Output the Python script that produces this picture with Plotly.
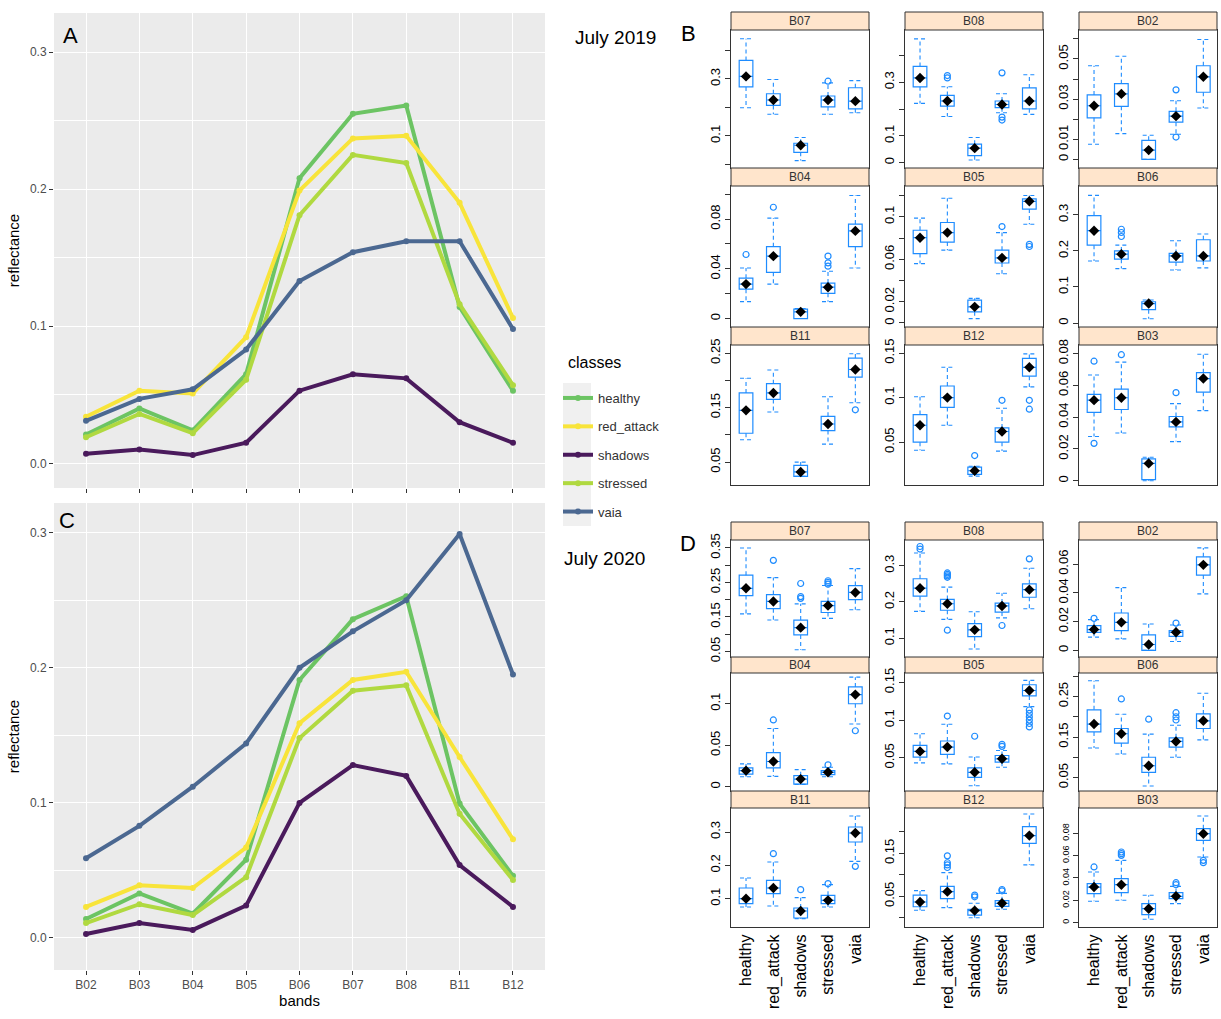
import plotly.graph_objects as go

W, H = 1221, 1019
FONT = "Liberation Sans, Arial, sans-serif"

bands = ["B02", "B03", "B04", "B05", "B06", "B07", "B08", "B11", "B12"]
classes = ["healthy", "red_attack", "shadows", "stressed", "vaia"]

# ---- mean spectral profiles (panel A: July 2019, panel C: July 2020)
y2019_healthy = [0.021, 0.040, 0.024, 0.065, 0.208, 0.255, 0.261, 0.114, 0.053]
y2019_red_attack = [0.034, 0.053, 0.051, 0.092, 0.199, 0.237, 0.239, 0.190, 0.106]
y2019_shadows = [0.007, 0.010, 0.006, 0.015, 0.053, 0.065, 0.062, 0.030, 0.015]
y2019_stressed = [0.019, 0.036, 0.022, 0.061, 0.181, 0.225, 0.219, 0.116, 0.057]
y2019_vaia = [0.031, 0.047, 0.054, 0.083, 0.133, 0.154, 0.162, 0.162, 0.098]

y2020_healthy = [0.014, 0.033, 0.018, 0.058, 0.191, 0.236, 0.253, 0.0995, 0.046]
y2020_red_attack = [0.023, 0.039, 0.037, 0.067, 0.159, 0.191, 0.197, 0.134, 0.073]
y2020_shadows = [0.003, 0.011, 0.006, 0.024, 0.100, 0.128, 0.120, 0.054, 0.023]
y2020_stressed = [0.011, 0.025, 0.017, 0.045, 0.148, 0.183, 0.187, 0.092, 0.043]
y2020_vaia = [0.059, 0.083, 0.112, 0.144, 0.200, 0.227, 0.250, 0.299, 0.195]

# ---- box-plot statistics per band (order of classes), panel B: 2019
b19_B07 = dict(lo=[0.199, 0.176, 0.013, 0.176, 0.181], q1=[0.272, 0.207, 0.042, 0.202, 0.195],
               med=[0.309, 0.226, 0.067, 0.226, 0.222], q3=[0.365, 0.248, 0.074, 0.240, 0.269],
               hi=[0.441, 0.298, 0.094, 0.286, 0.294], out=[[], [], [], [0.292], []])
b19_B08 = dict(lo=[0.221, 0.172, 0.010, 0.186, 0.180], q1=[0.283, 0.211, 0.026, 0.205, 0.201],
               med=[0.316, 0.230, 0.054, 0.217, 0.230], q3=[0.359, 0.251, 0.069, 0.230, 0.279],
               hi=[0.462, 0.283, 0.094, 0.257, 0.328], out=[[], [0.316, 0.325], [], [0.335, 0.170, 0.159], []])
b19_B02 = dict(lo=[0.0075, 0.0128, 0.0, 0.0125, 0.0256], q1=[0.0207, 0.0264, 0.0, 0.0185, 0.0334],
               med=[0.0267, 0.0326, 0.0046, 0.0215, 0.0411], q3=[0.0321, 0.0377, 0.0095, 0.0239, 0.0466],
               hi=[0.0466, 0.0513, 0.012, 0.0292, 0.0597], out=[[], [], [], [0.0346, 0.0111], []])
b19_B04 = dict(lo=[0.0136, 0.0277, 0.0, 0.0136, 0.0407], q1=[0.0236, 0.0372, 0.0, 0.0203, 0.0578],
               med=[0.0277, 0.0502, 0.0054, 0.0252, 0.0705], q3=[0.0325, 0.0578, 0.0076, 0.0285, 0.076],
               hi=[0.0407, 0.0808, 0.0081, 0.038, 0.099], out=[[0.0515], [0.0895], [], [0.0502, 0.0448, 0.0421], []])
b19_B05 = dict(lo=[0.0559, 0.0686, 0.0041, 0.0463, 0.093], q1=[0.0654, 0.0762, 0.0105, 0.0565, 0.1073],
               med=[0.0803, 0.0851, 0.0152, 0.0613, 0.1146], q3=[0.0873, 0.0946, 0.0216, 0.0686, 0.1168],
               hi=[0.0987, 0.1175, 0.0232, 0.0851, 0.12], out=[[], [], [], [0.0908], [0.074, 0.072]])
b19_B06 = dict(lo=[0.172, 0.151, 0.012, 0.147, 0.153], q1=[0.216, 0.177, 0.037, 0.169, 0.172],
               med=[0.256, 0.191, 0.054, 0.186, 0.186], q3=[0.298, 0.200, 0.059, 0.193, 0.231],
               hi=[0.354, 0.216, 0.064, 0.228, 0.247], out=[[], [0.260, 0.251, 0.240], [], [], []])
b19_B11 = dict(lo=[0.091, 0.142, 0.024, 0.083, 0.159], q1=[0.103, 0.165, 0.024, 0.108, 0.206],
               med=[0.145, 0.177, 0.032, 0.120, 0.220], q3=[0.177, 0.194, 0.044, 0.134, 0.241],
               hi=[0.204, 0.219, 0.050, 0.170, 0.249], out=[[], [], [], [], [0.146]])
b19_B12 = dict(lo=[0.041, 0.069, 0.012, 0.040, 0.112], q1=[0.050, 0.089, 0.014, 0.050, 0.124],
               med=[0.069, 0.100, 0.018, 0.062, 0.134], q3=[0.081, 0.113, 0.022, 0.066, 0.144],
               hi=[0.101, 0.134, 0.023, 0.088, 0.149], out=[[], [], [0.035], [0.097], [0.097, 0.087]])
b19_B03 = dict(lo=[0.0278, 0.030, 0.0, 0.0246, 0.0441], q1=[0.043, 0.0448, 0.0007, 0.0339, 0.0557],
               med=[0.0507, 0.0522, 0.0109, 0.037, 0.0643], q3=[0.0543, 0.0576, 0.0137, 0.0404, 0.068],
               hi=[0.0665, 0.0746, 0.0148, 0.0485, 0.0796], out=[[0.0752, 0.0235], [0.0793], [], [0.0554], []])

# ---- box-plot statistics per band, panel D: 2020
b20_B07 = dict(lo=[0.159, 0.141, 0.055, 0.146, 0.171], q1=[0.212, 0.174, 0.098, 0.163, 0.200],
               med=[0.233, 0.195, 0.119, 0.183, 0.221], q3=[0.271, 0.215, 0.141, 0.195, 0.241],
               hi=[0.350, 0.264, 0.188, 0.241, 0.290], out=[[], [0.314], [0.247, 0.209, 0.204], [0.255, 0.250, 0.245], []])
b20_B08 = dict(lo=[0.174, 0.152, 0.070, 0.156, 0.181], q1=[0.216, 0.177, 0.104, 0.172, 0.213],
               med=[0.238, 0.195, 0.123, 0.189, 0.234], q3=[0.264, 0.207, 0.140, 0.197, 0.250],
               hi=[0.335, 0.241, 0.173, 0.224, 0.293],
               out=[[0.353, 0.346], [0.280, 0.276, 0.272, 0.268, 0.122], [], [0.135], [0.319]])
b20_B02 = dict(lo=[0.0092, 0.008, 0.0, 0.0062, 0.0393], q1=[0.0126, 0.0138, 0.0, 0.0097, 0.0524],
               med=[0.0145, 0.0195, 0.0041, 0.0126, 0.0595], q3=[0.0172, 0.026, 0.0108, 0.0138, 0.0651],
               hi=[0.0214, 0.0437, 0.0184, 0.0177, 0.0713], out=[[0.0223], [], [], [0.019], []])
b20_B04 = dict(lo=[0.0122, 0.0126, 0.003, 0.0122, 0.0756], q1=[0.0154, 0.0228, 0.0033, 0.0146, 0.100],
               med=[0.0195, 0.0305, 0.0093, 0.0175, 0.111], q3=[0.0228, 0.0411, 0.0134, 0.0195, 0.1203],
               hi=[0.0276, 0.0703, 0.0207, 0.0236, 0.132], out=[[], [0.0805], [], [0.0264], [0.0675]])
b20_B05 = dict(lo=[0.0433, 0.042, 0.0129, 0.0375, 0.1179], q1=[0.051, 0.0545, 0.0241, 0.0442, 0.1321],
               med=[0.0585, 0.0643, 0.0308, 0.0487, 0.1393], q3=[0.0665, 0.0723, 0.0366, 0.0531, 0.1469],
               hi=[0.082, 0.0946, 0.051, 0.0598, 0.1527],
               out=[[], [0.1054], [0.0786], [0.0679, 0.0652], [0.1134, 0.109, 0.1045, 0.100, 0.0955, 0.091]])
b20_B06 = dict(lo=[0.123, 0.108, 0.029, 0.100, 0.143], q1=[0.1625, 0.135, 0.0625, 0.125, 0.171],
               med=[0.182, 0.158, 0.079, 0.139, 0.190], q3=[0.217, 0.171, 0.100, 0.148, 0.207],
               hi=[0.289, 0.206, 0.157, 0.179, 0.258], out=[[], [0.244], [0.194], [0.210, 0.200, 0.192], []])
b20_B11 = dict(lo=[0.075, 0.078, 0.040, 0.075, 0.212], q1=[0.085, 0.115, 0.042, 0.085, 0.270],
               med=[0.100, 0.132, 0.063, 0.095, 0.297], q3=[0.132, 0.155, 0.072, 0.110, 0.315],
               hi=[0.162, 0.210, 0.103, 0.142, 0.348], out=[[], [0.235], [0.127], [0.145], [0.197]])
b20_B12 = dict(lo=[0.018, 0.024, 0.0005, 0.020, 0.123], q1=[0.026, 0.045, 0.0065, 0.027, 0.173],
               med=[0.037, 0.061, 0.017, 0.034, 0.191], q3=[0.053, 0.073, 0.020, 0.040, 0.212],
               hi=[0.0633, 0.105, 0.034, 0.057, 0.241],
               out=[[], [0.144, 0.128, 0.123, 0.117], [0.053, 0.049], [0.066, 0.063], []])
b20_B03 = dict(lo=[0.0191, 0.020, 0.003, 0.017, 0.0588], q1=[0.026, 0.0269, 0.0072, 0.0215, 0.0737],
               med=[0.0319, 0.034, 0.0125, 0.0236, 0.0797], q3=[0.0349, 0.0394, 0.017, 0.0269, 0.0842],
               hi=[0.0454, 0.0558, 0.0245, 0.0325, 0.0955],
               out=[[0.0499], [0.0633, 0.0618, 0.0603], [], [0.0358, 0.034], [0.0558, 0.0537]])

panel_bands = ["B07", "B08", "B02", "B04", "B05", "B06", "B11", "B12", "B03"]
stats2019 = [b19_B07, b19_B08, b19_B02, b19_B04, b19_B05, b19_B06, b19_B11, b19_B12, b19_B03]
stats2020 = [b20_B07, b20_B08, b20_B02, b20_B04, b20_B05, b20_B06, b20_B11, b20_B12, b20_B03]

# ---- axis setups (range, tick values, tick labels) for each box panel
ax2019 = [
    ([-0.013, 0.472], [0, 0.1, 0.2, 0.3, 0.4], ["", "0.1", "", "0.3", ""]),
    ([-0.02, 0.495], [0, 0.1, 0.2, 0.3, 0.4], ["0", "0.1", "", "0.3", ""]),
    ([-0.0043, 0.0644], [0, 0.01, 0.02, 0.03, 0.04, 0.05, 0.06], ["0", "0.01", "", "0.03", "", "0.05", ""]),
    ([-0.0068, 0.1066], [0, 0.02, 0.04, 0.06, 0.08, 0.1], ["0", "", "0.04", "", "0.08", ""]),
    ([-0.0038, 0.129], [0, 0.02, 0.04, 0.06, 0.08, 0.1, 0.12], ["0", "0.02", "", "0.06", "", "0.1", ""]),
    ([-0.011, 0.38], [0, 0.1, 0.2, 0.3], ["0", "0.1", "0.2", "0.3"]),
    ([0.008, 0.265], [0.05, 0.1, 0.15, 0.2, 0.25], ["0.05", "", "0.15", "", "0.25"]),
    ([0.002, 0.159], [0.05, 0.1, 0.15], ["0.05", "0.1", "0.15"]),
    ([-0.0027, 0.0854], [0, 0.02, 0.04, 0.06, 0.08], ["0", "0.02", "0.04", "0.06", "0.08"]),
]
ax2020 = [
    ([0.034, 0.373], [0.05, 0.1, 0.15, 0.2, 0.25, 0.3, 0.35], ["0.05", "", "0.15", "", "0.25", "", "0.35"]),
    ([0.048, 0.371], [0.1, 0.2, 0.3], ["0.1", "0.2", "0.3"]),
    ([-0.0046, 0.0768], [0, 0.02, 0.04, 0.06], ["0", "0.02", "0.04", "0.06"]),
    ([-0.005, 0.137], [0, 0.05, 0.1], ["0", "0.05", "0.1"]),
    ([0.006, 0.1625], [0.05, 0.1, 0.15], ["0.05", "0.1", "0.15"]),
    ([0.0167, 0.308], [0.05, 0.1, 0.15, 0.2, 0.25, 0.3], ["0.05", "", "0.15", "", "0.25", ""]),
    ([0.015, 0.372], [0.1, 0.2, 0.3], ["0.1", "0.2", "0.3"]),
    ([-0.021, 0.255], [0, 0.05, 0.1, 0.15, 0.2], ["", "0.05", "", "0.15", ""]),
    ([-0.0039, 0.1027], [0, 0.02, 0.04, 0.06, 0.08], ["0", "0.02", "0.04", "0.06", "0.08"]),
]

line_colors = {"healthy": "#6CC463", "red_attack": "#F8E43A", "shadows": "#4A1A5C",
               "stressed": "#B0D940", "vaia": "#4B6891"}
BLUE = "#1E8CFF"


def pxx(px):
    return px / W


def pxy(py):
    return 1 - py / H


fig = go.Figure()
layout = dict(width=W, height=H, margin=dict(l=0, r=0, t=0, b=0, pad=0, autoexpand=False),
              paper_bgcolor="white", plot_bgcolor="white",
              font=dict(family=FONT, color="#333333"), shapes=[], annotations=[])

# ---------------- line charts A and C
series2019 = [y2019_healthy, y2019_red_attack, y2019_shadows, y2019_stressed, y2019_vaia]
series2020 = [y2020_healthy, y2020_red_attack, y2020_shadows, y2020_stressed, y2020_vaia]
for ci, cls in enumerate(classes):
    fig.add_trace(go.Scatter(x=bands, y=series2019[ci], mode="lines+markers", name=cls,
                             legendgroup=cls, line=dict(color=line_colors[cls], width=4),
                             marker=dict(color=line_colors[cls], size=6), xaxis="x", yaxis="y"))
    fig.add_trace(go.Scatter(x=bands, y=series2020[ci], mode="lines+markers", name=cls,
                             legendgroup=cls, showlegend=False, line=dict(color=line_colors[cls], width=4),
                             marker=dict(color=line_colors[cls], size=6), xaxis="x2", yaxis="y2"))

LX = [pxx(54), pxx(545)]
gg_x = dict(type="category", range=[-0.6, 8.6], showgrid=True, gridcolor="white", gridwidth=1.2,
            ticks="outside", ticklen=4, tickcolor="#333333", zeroline=False, showline=False,
            automargin=False, tickfont=dict(size=12, color="#4D4D4D"))
gg_y = dict(showgrid=True, gridcolor="white", gridwidth=1.2, ticks="outside", ticklen=4,
            tickcolor="#333333", zeroline=False, showline=False, tickvals=[0, 0.1, 0.2, 0.3],
            ticktext=["0.0", "0.1", "0.2", "0.3"], tickfont=dict(size=12, color="#4D4D4D"),
            automargin=False,
            minor=dict(tickvals=[0.05, 0.15, 0.25], showgrid=True, gridcolor="white", gridwidth=0.6),
            title=dict(text="reflectance", font=dict(size=15, color="black"), standoff=6))
layout["xaxis"] = dict(gg_x, domain=LX, anchor="y", showticklabels=False)
layout["yaxis"] = dict(gg_y, domain=[pxy(488), pxy(13)], anchor="x", range=[-0.018, 0.3285])
layout["xaxis2"] = dict(gg_x, domain=LX, anchor="y2",
                        title=dict(text="bands", font=dict(size=15, color="black"), standoff=4))
layout["yaxis2"] = dict(gg_y, domain=[pxy(970), pxy(503)], anchor="x2", range=[-0.0237, 0.322])
for xr, yr in [("x", "y"), ("x2", "y2")]:
    layout["shapes"].append(dict(type="rect", xref=xr + " domain", yref=yr + " domain", x0=0, x1=1,
                                 y0=0, y1=1, fillcolor="#EBEBEB", line=dict(width=0), layer="below"))

# ---------------- box panels B and D
cols = [(731, 869), (905, 1043), (1079, 1217)]
rowsB = [((12, 30), (30, 168)), ((168, 186), (186, 327)), ((327, 345), (345, 485))]
rowsD = [((522, 540), (540, 657)), ((657, 673), (673, 791)), ((791, 808), (808, 927))]

k = 3
for period, stats, axes, rows in [("2019", stats2019, ax2019, rowsB), ("2020", stats2020, ax2020, rowsD)]:
    for pi, band in enumerate(panel_bands):
        r, c = divmod(pi, 3)
        s = stats[pi]
        yrng, tv, tt = axes[pi]
        (sy0, sy1), (py0, py1) = rows[r]
        cx0, cx1 = cols[c]
        xa, ya = "x%d" % k, "y%d" % k
        pos = list(range(len(classes)))
        fig.add_trace(go.Box(x=pos, q1=s["q1"], median=s["med"], q3=s["q3"], lowerfence=s["q1"],
                             upperfence=s["q3"], width=0.5, whiskerwidth=0,
                             line=dict(color=BLUE, width=1.2), fillcolor="rgba(255,255,255,0)",
                             boxpoints=False, showlegend=False, hoverinfo="skip", xaxis=xa, yaxis=ya))
        wx, wy = [], []
        for i in pos:
            wx += [i, i, None, i, i, None, i - 0.22, i + 0.22, None, i - 0.22, i + 0.22, None]
            wy += [s["q3"][i], s["hi"][i], None, s["q1"][i], s["lo"][i], None,
                   s["hi"][i], s["hi"][i], None, s["lo"][i], s["lo"][i], None]
        fig.add_trace(go.Scatter(x=wx, y=wy, mode="lines", line=dict(color=BLUE, width=1.1, dash="4px,3px"),
                                 showlegend=False, hoverinfo="skip", xaxis=xa, yaxis=ya))
        ox, oy = [], []
        for i in pos:
            for v in s["out"][i]:
                ox.append(i)
                oy.append(v)
        if ox:
            fig.add_trace(go.Scatter(x=ox, y=oy, mode="markers",
                                     marker=dict(symbol="circle-open", size=6, color=BLUE, line=dict(width=1.2)),
                                     showlegend=False, hoverinfo="skip", xaxis=xa, yaxis=ya))
        fig.add_trace(go.Scatter(x=pos, y=s["med"], mode="markers",
                                 marker=dict(symbol="diamond", size=8, color="black"),
                                 showlegend=False, hoverinfo="skip", xaxis=xa, yaxis=ya))
        bottom_labels = (period == "2020" and r == 2)
        xdef = dict(domain=[pxx(cx0), pxx(cx1)], anchor=ya, range=[-0.55, 4.5], showgrid=False,
                    zeroline=False, showline=True, mirror=True, linecolor="#333333", linewidth=1,
                    automargin=False)
        if bottom_labels:
            xdef.update(tickvals=pos, ticktext=classes, tickangle=-90, ticks="",
                        tickfont=dict(size=16, color="black"))
        else:
            xdef.update(showticklabels=False, ticks="")
        layout["xaxis%d" % k] = xdef
        fsize = 9 if (period == "2020" and band == "B03") else 13
        layout["yaxis%d" % k] = dict(domain=[pxy(py1), pxy(py0)], anchor=xa, range=yrng, tickvals=tv,
                                     ticktext=tt, tickangle=-90, ticks="outside", ticklen=5,
                                     tickcolor="#333333", showgrid=False, zeroline=False, showline=True,
                                     mirror=True, linecolor="#333333", linewidth=1, automargin=False,
                                     tickfont=dict(size=fsize, color="black"))
        layout["shapes"].append(dict(type="rect", xref="paper", yref="paper", x0=pxx(cx0), x1=pxx(cx1),
                                     y0=pxy(sy1), y1=pxy(sy0), fillcolor="#FFE5CC",
                                     line=dict(color="#333333", width=1)))
        layout["annotations"].append(dict(text=band, xref="paper", yref="paper", x=pxx((cx0 + cx1) / 2),
                                          y=pxy((sy0 + sy1) / 2), showarrow=False,
                                          font=dict(size=12, color="#333333"), xanchor="center",
                                          yanchor="middle"))
        k += 1

# ---------------- labels
for txt, x, y, size in [("A", 70, 35, 22), ("C", 67, 520, 22), ("B", 688, 33, 22), ("D", 688, 543, 22),
                        ("July 2019", 615, 38, 19), ("July 2020", 604, 558, 19), ("classes", 594, 362, 16)]:
    layout["annotations"].append(dict(text=txt, xref="paper", yref="paper", x=pxx(x), y=pxy(y),
                                      showarrow=False, font=dict(size=size, color="black"),
                                      xanchor="center", yanchor="middle"))

# legend key background
layout["shapes"].append(dict(type="rect", xref="paper", yref="paper", x0=pxx(563), x1=pxx(591),
                             y0=pxy(526), y1=pxy(383), fillcolor="#F0F0F0", line=dict(width=0)))
layout["legend"] = dict(x=pxx(558), y=pxy(383), xanchor="left", yanchor="top",
                        font=dict(size=13, color="#333333"), bgcolor="rgba(0,0,0,0)",
                        tracegroupgap=8.5, itemwidth=30)
layout["showlegend"] = True

fig.update_layout(**layout)
fig.write_html("out.html")
